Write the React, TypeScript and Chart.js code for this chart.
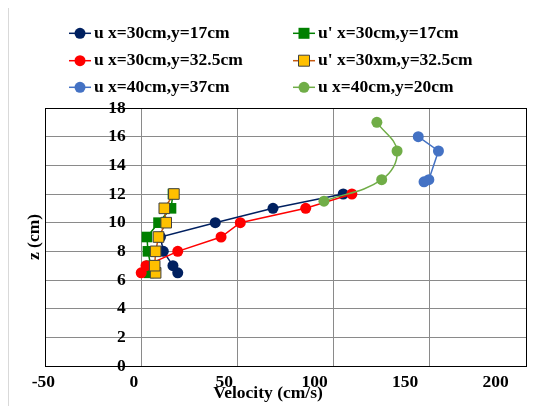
import React, { useEffect, useRef } from "react";
import { Chart, registerables } from "chart.js";

Chart.register(...registerables);

// ---- data ----
const seriesLabels = [
  "u x=30cm,y=17cm",
  "u' x=30cm,y=17cm",
  "u x=30cm,y=32.5cm",
  "u' x=30xm,y=32.5cm",
  "u x=40cm,y=37cm",
  "u x=40cm,y=20cm",
];
const zNavy = [6.5, 7, 8, 9, 10, 11, 12];
const uNavy = [19, 16.5, 11.5, 10, 38.5, 68.5, 105];
const zGreenSq = [6.5, 7, 8, 9, 10, 11, 12];
const uGreenSq = [4, 5, 3.5, 3, 9, 15.5, 16.5];
const zRed = [6.5, 7, 8, 9, 10, 11, 12];
const uRed = [0, 2.5, 19, 41.5, 51.5, 85.5, 109.5];
const zYellow = [6.5, 7, 8, 9, 10, 11, 12];
const uYellow = [7.5, 7, 7.5, 9, 13, 12, 17];
const zBlue = [16, 15, 13, 12.85];
const uBlue = [144, 154.5, 149.5, 147];
const zLightGreen = [17, 15, 13, 11.5];
const uLightGreen = [122.5, 133, 125, 95];

const xTickValues = [-50, 0, 50, 100, 150, 200];
const yTickStep = 2;

const FONT = '"Liberation Serif", "Times New Roman", serif';
const FS = 17.5;

const pts = (u: number[], z: number[]) => u.map((v, i) => ({ x: v, y: z[i] }));

const LEG_COL_X = [60, 284];
const LEG_ROW_Y = [26.3, 53.7, 80.3];

const legendPlugin = {
  id: "gridLegend",
  afterDraw(chart: any) {
    const ctx = chart.ctx as CanvasRenderingContext2D;
    ctx.save();
    chart.data.datasets.forEach((ds: any, i: number) => {
      const lx = LEG_COL_X[i % 2];
      const ly = LEG_ROW_Y[Math.floor(i / 2)];
      ctx.strokeStyle = ds.borderColor;
      ctx.lineWidth = 1.5;
      ctx.beginPath();
      ctx.moveTo(lx, ly);
      ctx.lineTo(lx + 22, ly);
      ctx.stroke();
      const cx = lx + 11;
      ctx.fillStyle = ds.pointBackgroundColor;
      ctx.strokeStyle = ds.pointBorderColor;
      ctx.lineWidth = ds.pointBorderWidth;
      ctx.beginPath();
      if (ds.pointStyle === "rect") {
        ctx.rect(cx - 5.5, ly - 5.5, 11, 11);
      } else {
        ctx.arc(cx, ly, 5.5, 0, Math.PI * 2);
      }
      ctx.fill();
      if (ds.pointBorderWidth > 0) ctx.stroke();
      ctx.fillStyle = "#000";
      ctx.font = `bold ${FS}px ${FONT}`;
      ctx.textBaseline = "middle";
      ctx.textAlign = "left";
      ctx.fillText(ds.label, lx + 25, ly);
    });
    ctx.restore();
  },
};

function mkDs(label: string, data: any[], line: string, fill: string, border: string, style: string, radius: number, bw: number, order: number, tension = 0) {
  return {
    label,
    data,
    showLine: true,
    borderColor: line,
    borderWidth: 1.5,
    backgroundColor: fill,
    pointBackgroundColor: fill,
    pointBorderColor: border,
    pointBorderWidth: bw,
    pointStyle: style,
    pointRadius: radius,
    tension,
    order,
  };
}

export default function App() {
  const ref = useRef<HTMLCanvasElement>(null);
  useEffect(() => {
    if (!ref.current) return;
    const gridColor = (edgeA: number, edgeB: number) => (c: any) =>
      c.tick && (c.tick.value === edgeA || c.tick.value === edgeB) ? "#000000" : "#8a8a8a";
    const chart = new Chart(ref.current, {
      type: "scatter",
      data: {
        datasets: [
          mkDs(seriesLabels[0], pts(uNavy, zNavy), "#002060", "#002060", "#002060", "circle", 5.5, 0, 6),
          mkDs(seriesLabels[1], pts(uGreenSq, zGreenSq), "#008000", "#008000", "#008000", "rect", 7.5, 0, 5),
          mkDs(seriesLabels[2], pts(uRed, zRed), "#ff0000", "#ff0000", "#ff0000", "circle", 5.5, 0, 4),
          mkDs(seriesLabels[3], pts(uYellow, zYellow), "#c55a11", "#ffc000", "#404040", "rect", 7.5, 1, 3),
          mkDs(seriesLabels[4], pts(uBlue, zBlue), "#4472c4", "#4472c4", "#4472c4", "circle", 5.5, 0, 2),
          mkDs(seriesLabels[5], pts(uLightGreen, zLightGreen), "#70ad47", "#70ad47", "#70ad47", "circle", 5.5, 0, 1, 0.4),
        ] as any,
      },
      options: {
        animation: false,
        responsive: false,
        layout: { padding: { top: 101, right: 41, left: 0, bottom: 0 } },
        plugins: { legend: { display: false }, tooltip: { enabled: false } },
        scales: {
          x: {
            type: "linear",
            position: "bottom",
            min: -50,
            max: 200,
            ticks: { display: false, stepSize: 50 },
            grid: { color: gridColor(-50, 200), drawTicks: false, lineWidth: 1 },
            border: { display: true, color: "#000" },
            afterFit: (s: any) => { s.height = 0; },
          },
          x2: {
            type: "linear",
            axis: "x",
            position: "bottom",
            min: -49.06,
            max: 216.8,
            afterBuildTicks: (s: any) => { s.ticks = xTickValues.map((v) => ({ value: v })); },
            ticks: { font: { family: FONT, size: FS, weight: "bold" }, color: "#000", padding: 6, maxRotation: 0, autoSkip: false },
            grid: { display: false, drawTicks: false },
            border: { display: false },
            title: {
              display: true,
              text: "Velocity (cm/s)        ",
              font: { family: FONT, size: FS, weight: "bold" },
              color: "#000",
              padding: { top: 0, bottom: 11 },
            },
            afterFit: (s: any) => { s.height = 49; },
          },
          y: {
            type: "linear",
            position: "left",
            min: 0,
            max: 18,
            ticks: { display: false, stepSize: yTickStep },
            grid: { color: gridColor(0, 18), drawTicks: false, lineWidth: 1 },
            border: { display: true, color: "#000" },
            title: {
              display: true,
              text: "z (cm)",
              font: { family: FONT, size: FS, weight: "bold" },
              color: "#000",
              padding: { top: 15, bottom: 0 },
            },
            afterFit: (s: any) => { s.width = 36; },
          },
          yLab: {
            type: "linear",
            axis: "y",
            position: { x: -8 } as any,
            min: 0,
            max: 18,
            ticks: { stepSize: yTickStep, font: { family: FONT, size: FS, weight: "bold" }, color: "#000", padding: 0 },
            grid: { display: false, drawTicks: false },
            border: { display: false },
          },
        } as any,
      },
      plugins: [legendPlugin as any],
    });
    return () => chart.destroy();
  }, []);

  return (
    <div style={{ width: 547, height: 410, overflow: "hidden", marginTop: -2, marginBottom: -10 }}>
      <div style={{ width: 560, height: 410, border: "1px solid #d9d9d9", boxSizing: "border-box", background: "#fff" }}>
        <canvas ref={ref} width={558} height={408} style={{ display: "block" }} />
      </div>
    </div>
  );
}
